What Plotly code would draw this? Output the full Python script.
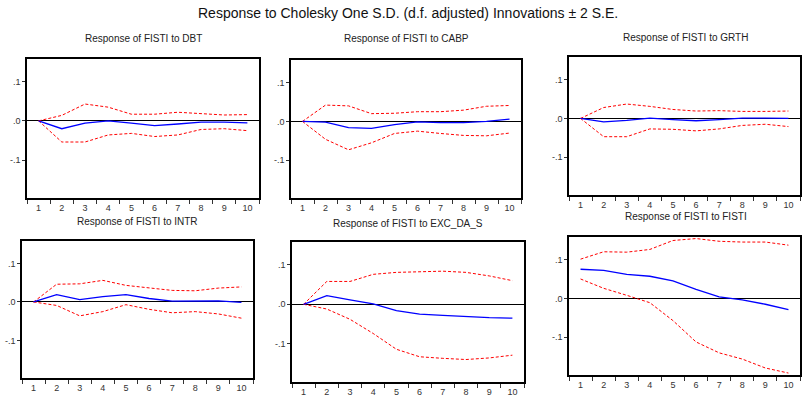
import plotly.graph_objects as go

periods = list(range(1, 11))
titles = ["Response of FISTI to DBT", "Response of FISTI to CABP", "Response of FISTI to GRTH",
          "Response of FISTI to INTR", "Response of FISTI to EXC_DA_S", "Response of FISTI to FISTI"]

dbt_resp = [0.0, -0.020, -0.006, 0.0, -0.006, -0.012, -0.008, -0.003, -0.003, -0.005]
dbt_up = [0.0, 0.014, 0.043, 0.035, 0.017, 0.017, 0.022, 0.019, 0.015, 0.016]
dbt_lo = [0.0, -0.054, -0.054, -0.036, -0.032, -0.040, -0.036, -0.022, -0.020, -0.025]

cabp_resp = [0.0, -0.002, -0.016, -0.018, -0.008, -0.001, -0.003, -0.003, 0.0, 0.006]
cabp_up = [0.0, 0.042, 0.040, 0.020, 0.021, 0.025, 0.025, 0.029, 0.039, 0.041]
cabp_lo = [0.0, -0.046, -0.073, -0.055, -0.031, -0.025, -0.031, -0.036, -0.037, -0.030]

grth_resp = [0.0, -0.009, -0.005, 0.001, -0.003, -0.006, -0.003, 0.001, 0.001, 0.0]
grth_up = [0.0, 0.028, 0.037, 0.031, 0.023, 0.019, 0.020, 0.018, 0.018, 0.019]
grth_lo = [0.0, -0.047, -0.047, -0.027, -0.028, -0.032, -0.027, -0.018, -0.015, -0.021]

intr_resp = [0.0, 0.019, 0.006, 0.014, 0.019, 0.009, 0.002, 0.002, 0.003, -0.001]
intr_up = [0.0, 0.046, 0.047, 0.056, 0.043, 0.037, 0.030, 0.029, 0.036, 0.039]
intr_lo = [0.0, -0.009, -0.036, -0.025, -0.007, -0.019, -0.028, -0.025, -0.031, -0.042]

exc_resp = [0.0, 0.022, 0.011, 0.001, -0.016, -0.025, -0.028, -0.031, -0.034, -0.035]
exc_up = [0.0, 0.058, 0.058, 0.076, 0.081, 0.082, 0.084, 0.081, 0.072, 0.060]
exc_lo = [0.0, -0.012, -0.038, -0.074, -0.114, -0.133, -0.137, -0.140, -0.136, -0.129]

fisti_resp = [0.075, 0.072, 0.062, 0.057, 0.045, 0.023, 0.004, -0.004, -0.015, -0.029]
fisti_up = [0.101, 0.120, 0.119, 0.126, 0.149, 0.154, 0.147, 0.145, 0.145, 0.137]
fisti_lo = [0.050, 0.026, 0.008, -0.011, -0.057, -0.112, -0.140, -0.156, -0.179, -0.192]

series = [(dbt_resp, dbt_up, dbt_lo), (cabp_resp, cabp_up, cabp_lo), (grth_resp, grth_up, grth_lo),
          (intr_resp, intr_up, intr_lo), (exc_resp, exc_up, exc_lo), (fisti_resp, fisti_up, fisti_lo)]

y_tickvals = [0.1, 0.0, -0.1]
y_ticktext = [".1", ".0", "-.1"]

W, H = 802, 397
# panel frames in pixels: x0, x1, y0, y1 (y from top)
frames = [(27, 259, 59, 198), (291, 521, 60, 198), (569, 800, 57, 195),
          (22, 253, 241, 378), (292, 524, 242, 382), (569, 800, 237, 375)]
title_pos = [(143, 39), (406, 39), (685, 37), (137, 221), (408, 223), (686, 216)]

fig = go.Figure()
layout = {}
annotations = []
font_family = "Liberation Sans, Arial, sans-serif"

for i, ((x0, x1, y0, y1), (resp, up, lo)) in enumerate(zip(frames, series)):
    n = i + 1
    xa = "x" if n == 1 else f"x{n}"
    ya = "y" if n == 1 else f"y{n}"
    fig.add_trace(go.Scatter(x=periods, y=up, mode="lines", xaxis=xa, yaxis=ya,
                             line=dict(color="#ff0000", width=1, dash="3px,2px"), showlegend=False))
    fig.add_trace(go.Scatter(x=periods, y=lo, mode="lines", xaxis=xa, yaxis=ya,
                             line=dict(color="#ff0000", width=1, dash="3px,2px"), showlegend=False))
    fig.add_trace(go.Scatter(x=periods, y=resp, mode="lines", xaxis=xa, yaxis=ya,
                             line=dict(color="#0000ff", width=1.3), showlegend=False))
    layout[f"xaxis{n}" if n > 1 else "xaxis"] = dict(
        domain=[x0 / W, x1 / W], anchor=ya, range=[0.5, 10.5],
        tickmode="array", tickvals=periods, ticktext=[str(p) for p in periods],
        ticks="", showgrid=False, zeroline=False,
        showline=True, mirror=True, linecolor="black", linewidth=1.5,
        tickfont=dict(size=9, color="#333333", family=font_family),
        minor=dict(tickmode="array", tickvals=[p - 0.5 for p in periods] + [10.5],
                   ticks="outside", ticklen=4, tickcolor="#333333", tickwidth=1, showgrid=False),
    )
    layout[f"yaxis{n}" if n > 1 else "yaxis"] = dict(
        domain=[1 - y1 / H, 1 - y0 / H], anchor=xa, range=[-0.197, 0.158],
        tickmode="array", tickvals=y_tickvals, ticktext=y_ticktext,
        ticks="outside", ticklen=3, tickcolor="#333333", showgrid=False,
        zeroline=True, zerolinecolor="black", zerolinewidth=1,
        showline=True, mirror=True, linecolor="black", linewidth=1.5,
        tickfont=dict(size=9, color="#333333", family=font_family),
    )
    tx, ty = title_pos[i]
    annotations.append(dict(text=titles[i], x=tx / W, y=1 - ty / H, xref="paper", yref="paper",
                            showarrow=False, xanchor="center", yanchor="middle",
                            font=dict(size=10, color="#222222", family=font_family)))

annotations.append(dict(text="Response to Cholesky One S.D. (d.f. adjusted) Innovations ± 2 S.E.",
                        x=408 / W, y=1 - 13 / H, xref="paper", yref="paper", showarrow=False,
                        xanchor="center", yanchor="middle",
                        font=dict(size=14, color="#111111", family=font_family)))

fig.update_layout(**layout)
fig.update_layout(width=W, height=H, margin=dict(l=0, r=0, t=0, b=0),
                  paper_bgcolor="white", plot_bgcolor="white", annotations=annotations,
                  font=dict(family=font_family), hovermode=False)
fig.write_html("out.html", config={"displayModeBar": False},
               post_script="document.body.style.margin='0';document.body.style.overflow='hidden';")
